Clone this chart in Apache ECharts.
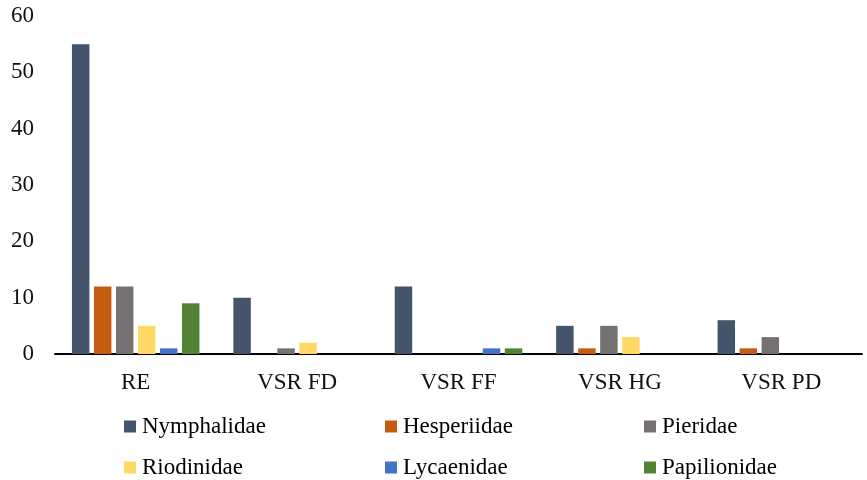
<!DOCTYPE html>
<html>
<head>
<meta charset="utf-8">
<script src="https://cdn.jsdelivr.net/npm/echarts@6/dist/echarts.min.js"></script>
<style>
  html, body { margin: 0; padding: 0; background: #fff; }
  #chart { width: 867px; height: 480px; }
</style>
</head>
<body>
<div id="chart"></div>
<script>
// Butterfly family counts per site
const categories = ['RE', 'VSR FD', 'VSR FF', 'VSR HG', 'VSR PD'];
const families = ['Nymphalidae', 'Hesperiidae', 'Pieridae', 'Riodinidae', 'Lycaenidae', 'Papilionidae'];
const nymphalidae  = [55, 10, 12, 5, 6];
const hesperiidae  = [12, 0, 0, 1, 1];
const pieridae     = [12, 1, 0, 5, 3];
const riodinidae   = [5, 2, 0, 3, 0];
const lycaenidae   = [1, 0, 1, 0, 0];
const papilionidae = [9, 0, 1, 0, 0];
const yTicks = { min: 0, max: 60, interval: 10 };

const seriesValues = [nymphalidae, hesperiidae, pieridae, riodinidae, lycaenidae, papilionidae];
const colors = ['#44546A', '#C55A11', '#767171', '#FFD966', '#4472C4', '#548235'];

const font = '"Liberation Serif", "Times New Roman", serif';

// one legend per item so they sit in a 3-column, 2-row layout
const legendCols = [124, 385, 644];
const legendRows = [415, 456];
const legends = families.map((name, i) => ({
  data: [name],
  left: legendCols[i % 3],
  top: legendRows[Math.floor(i / 3)],
  itemWidth: 12,
  itemHeight: 12,
  itemGap: 0,
  padding: 0,
  selectedMode: false,
  textStyle: { fontFamily: font, fontSize: 23, color: '#000', padding: [0, 0, 0, 1] },
  icon: 'rect'
}));

const chart = echarts.init(document.getElementById('chart'), null, { renderer: 'canvas' });
chart.setOption({
  animation: false,
  color: colors,
  grid: { left: 55, right: 5, top: 16, bottom: 126, containLabel: false },
  legend: legends,
  xAxis: {
    type: 'category',
    data: categories,
    axisLine: { show: true, lineStyle: { color: '#000', width: 2 } },
    axisTick: { show: false },
    axisLabel: { fontFamily: font, fontSize: 23, color: '#111', margin: 17 }
  },
  yAxis: {
    type: 'value',
    min: yTicks.min,
    max: yTicks.max,
    interval: yTicks.interval,
    axisLine: { show: false },
    axisTick: { show: false },
    splitLine: { show: false },
    axisLabel: { fontFamily: font, fontSize: 23, color: '#111', margin: 21 }
  },
  series: families.map((name, i) => ({
    name,
    type: 'bar',
    data: seriesValues[i],
    barGap: '26%',
    barCategoryGap: '21%',
    itemStyle: { color: colors[i] }
  }))
});
</script>
</body>
</html>
